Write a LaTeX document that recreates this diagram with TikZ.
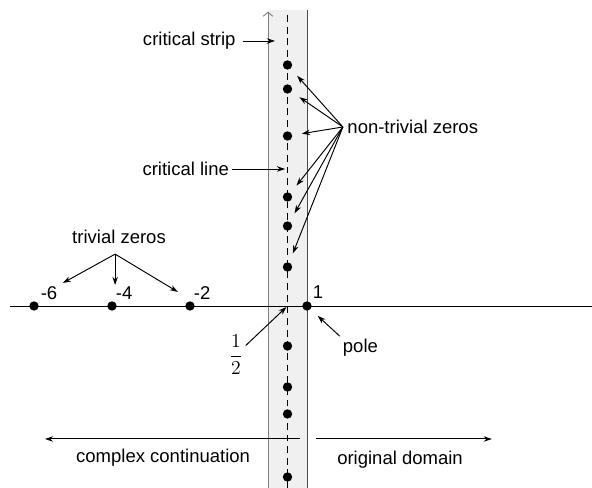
\documentclass[tikz,border=0pt]{standalone}
\usepackage{fontspec}
\setmainfont{Liberation Sans}
\usepackage{amsmath}
\usetikzlibrary{arrows,arrows.meta,positioning,calc}

\begin{document}
\begin{tikzpicture}[
    >={Stealth[length=6pt,width=4pt]},
    line width=0.7pt,
    every node/.style={inner sep=2pt, font=\fontsize{13.5}{16}\selectfont},
    dot/.style={circle, fill=black, minimum size=2.4mm, inner sep=0pt},
    ptr/.style={->, shorten >=0.24cm}
]
  \useasboundingbox (-6.872,-4.667) rectangle (8.308,7.846);

  % strip and axes
  \fill[gray!12] (0,-4.667) rectangle (1,7.59);
  \draw[gray, ->, >={Straight Barb[length=3pt,width=7pt]}] (0,-4.667) -- (0,7.55);
  \draw[black!70] (1,-4.667) -- (1,7.59);
  \draw[dash pattern=on 5pt off 3.5pt] (0.5,-4.667) -- (0.5,7.5);
  \draw (-6.615,0) -- (8.308,0);

  % zeros
  \foreach \y [count=\i] in {6.18,5.564,4.359,2.795,2.051,1.0,-1.026,-2.077,-2.769,-4.385}
    \node[dot] (z\i) at (0.5,\y) {};
  \foreach \x in {2,4,6}
    \node[dot] (t\x) at (-\x,0) {};
  \node[dot] (p1) at (1,0) {};

  % labels
  \node (m6) at (-5.615,0.333) {-6};
  \node (m4) at (-3.69,0.333) {-4};
  \node (m2) at (-1.69,0.333) {-2};
  \node (one) at (1.28,0.36) {1};

  \node (tz) at (-3.82,1.77) {trivial zeros};
  \coordinate (tzo) at (-3.92,1.33);
  \coordinate (a6) at (-5.26,0.59);
  \coordinate (a4) at (-3.92,0.54);
  \coordinate (a2) at (-2.31,0.36);
  \foreach \c in {a6,a4,a2}
    \draw[->] (tzo) -- (\c);

  \node[anchor=west, inner sep=3pt] (ntz) at (1.92,4.59) {non-trivial zeros};
  \foreach \i in {1,...,6}
    \draw[ptr] (ntz.west) -- (z\i);

  \node[anchor=east] (cs) at (-0.75,6.795) {critical strip};
  \coordinate (csp) at (0.18,6.795);
  \draw[->, shorten <=0.1cm] (cs) -- (csp);

  \node[anchor=east] (cl) at (-0.92,3.513) {critical line};
  \coordinate (clp) at (0.44,3.513);
  \draw[->] (cl) -- (clp);

  \node (fr) at (-0.82,-1.25) {$\dfrac{1}{2}$};
  \coordinate (half) at (0.5,0);
  \draw[->, shorten >=1pt] (fr) -- (half);

  \node (pl) at (2.37,-1.077) {pole};
  \draw[ptr] (pl.north west) -- (p1);

  % domains
  \coordinate (cc1) at (0.82,-3.41);
  \coordinate (cc2) at (-5.72,-3.41);
  \coordinate (od1) at (1.23,-3.41);
  \coordinate (od2) at (5.74,-3.41);
  \draw[->] (cc1) -- (cc2);
  \draw[->] (od1) -- (od2);
  \node (cc) at (-2.69,-3.897) {complex continuation};
  \node (od) at (3.385,-3.95) {original domain};
\end{tikzpicture}
\end{document}
